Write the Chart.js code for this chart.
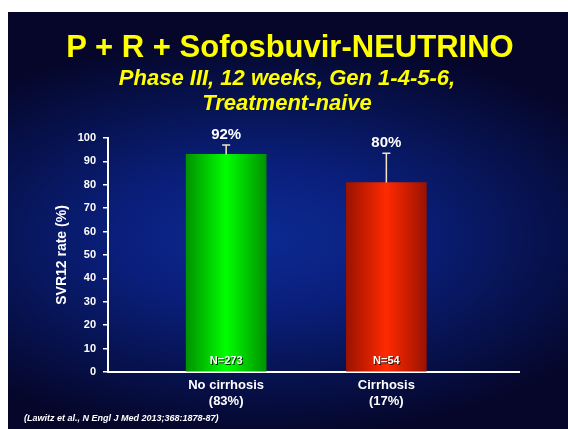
<!DOCTYPE html>
<html>
<head>
<meta charset="utf-8">
<style>
  html, body { margin: 0; padding: 0; background: #fff; }
  #slide { position: relative; width: 568px; height: 429px; overflow: hidden; font-family: "Liberation Sans", Arial, sans-serif; }
  #bg { position: absolute; left: 8px; top: 12px; width: 560px; height: 417px;
        background: radial-gradient(ellipse 72% 48% at 45% 54%, #0c2a92 0%, #0a1f7c 35%, #071455 65%, #05062a 100%); }
  canvas { position: absolute; left: 0; top: 0; }
  .title { position: absolute; left: 0; width: 580px; margin: 0; text-align: center; color: #ffff00; font-weight: bold; }
  #t1 { top: 28px; font-size: 31px; line-height: 38px; }
  #t2 { top: 65px; width: 574px; font-size: 22px; line-height: 25px; font-style: italic; }
  #ref { position: absolute; left: 24px; top: 413px; margin: 0; color: #fff; font-size: 9px; font-weight: bold; font-style: italic; }
</style>
</head>
<body>
<div id="slide">
  <div id="bg"></div>
  <canvas id="svrChart" width="568" height="429"></canvas>
  <h2 class="title" id="t1">P + R + Sofosbuvir-NEUTRINO</h2>
  <h3 class="title" id="t2">Phase III, 12 weeks, Gen 1-4-5-6,<br>Treatment-naive</h3>
  <p id="ref">(Lawitz et al., N Engl J Med 2013;368:1878-87)</p>
</div>

<script src="https://cdn.jsdelivr.net/npm/chart.js"></script>
<script>
  const categories = [["No cirrhosis", "(83%)"], ["Cirrhosis", "(17%)"]];
  const svrRates = [93, 81];
  const errorTops = [97, 93.5];
  const valueLabels = ["92%", "80%"];
  const nLabels = ["N=273", "N=54"];
  const yTicks = [0, 10, 20, 30, 40, 50, 60, 70, 80, 90, 100];

  const barColors = [["#009200", "#00ff00"], ["#9a1200", "#ff2a00"]];
  const font = '"Liberation Sans", Arial, sans-serif';

  // horizontal gradient, dark edges -> bright centre
  function barFill(c) {
    const chart = c.chart, xs = chart.scales.x;
    const [edge, mid] = barColors[c.dataIndex];
    if (!chart.chartArea || !xs) return mid;
    const cx = xs.getPixelForValue(c.dataIndex);
    const g = chart.ctx.createLinearGradient(cx - 40, 0, cx + 40, 0);
    g.addColorStop(0, edge); g.addColorStop(0.5, mid); g.addColorStop(1, edge);
    return g;
  }

  const annotate = {
    id: "annotate",
    afterDatasetsDraw(chart) {
      const { ctx, scales: { x, y } } = chart;
      ctx.save();
      svrRates.forEach((v, i) => {
        const cx = x.getPixelForValue(i);
        const top = y.getPixelForValue(v), cap = y.getPixelForValue(errorTops[i]);
        ctx.strokeStyle = "#f3e3c3"; ctx.lineWidth = 1.5;
        ctx.beginPath();
        ctx.moveTo(cx, top); ctx.lineTo(cx, cap);
        ctx.moveTo(cx - 4, cap); ctx.lineTo(cx + 4, cap);
        ctx.stroke();
        ctx.fillStyle = "#fff"; ctx.textAlign = "center"; ctx.textBaseline = "middle";
        ctx.font = "bold 15px " + font;
        ctx.fillText(valueLabels[i], cx, cap - 10);
        ctx.shadowColor = "rgba(0,0,0,0.8)"; ctx.shadowOffsetX = 1; ctx.shadowOffsetY = 1;
        ctx.font = "bold 11px " + font;
        ctx.fillText(nLabels[i], cx, y.getPixelForValue(0) - 11);
        ctx.shadowColor = "transparent";
      });
      ctx.restore();
    }
  };

  new Chart(document.getElementById("svrChart"), {
    type: "bar",
    data: { datasets: [{ data: svrRates.map((v, i) => ({ x: i, y: v })), backgroundColor: barFill, barThickness: 80 }] },
    options: {
      responsive: false, animation: false,
      layout: { padding: { left: 48, right: 49, top: 138, bottom: 0 } },
      plugins: { legend: { display: false }, tooltip: { enabled: false } },
      scales: {
        x: {
          type: "linear", min: -0.7375, max: 1.828, offset: false,
          afterBuildTicks: s => { s.ticks = categories.map((c, i) => ({ value: i })); },
          afterFit: s => { s.height = 57; },
          grid: { display: false },
          border: { color: "#fff", width: 2 },
          ticks: { color: "#fff", padding: -2, maxRotation: 0, autoSkip: false, font: { family: font, size: 13, weight: "bold" },
                   callback: v => categories[v] }
        },
        y: {
          min: 0, max: 100,
          afterBuildTicks: s => { s.ticks = yTicks.map(v => ({ value: v })); },
          afterFit: s => { s.width = 60; },
          grid: { drawOnChartArea: false, drawTicks: true, tickLength: 5, color: "#fff", lineWidth: 1.5 },
          border: { color: "#fff", width: 2 },
          ticks: { color: "#fff", padding: 7, font: { family: font, size: 11, weight: "bold" } },
          title: { display: true, text: "SVR12 rate (%)", color: "#fff", padding: { top: 6, bottom: 0 }, font: { family: font, size: 14, weight: "bold" } }
        }
      }
    },
    plugins: [annotate]
  });
</script>
</body>
</html>
